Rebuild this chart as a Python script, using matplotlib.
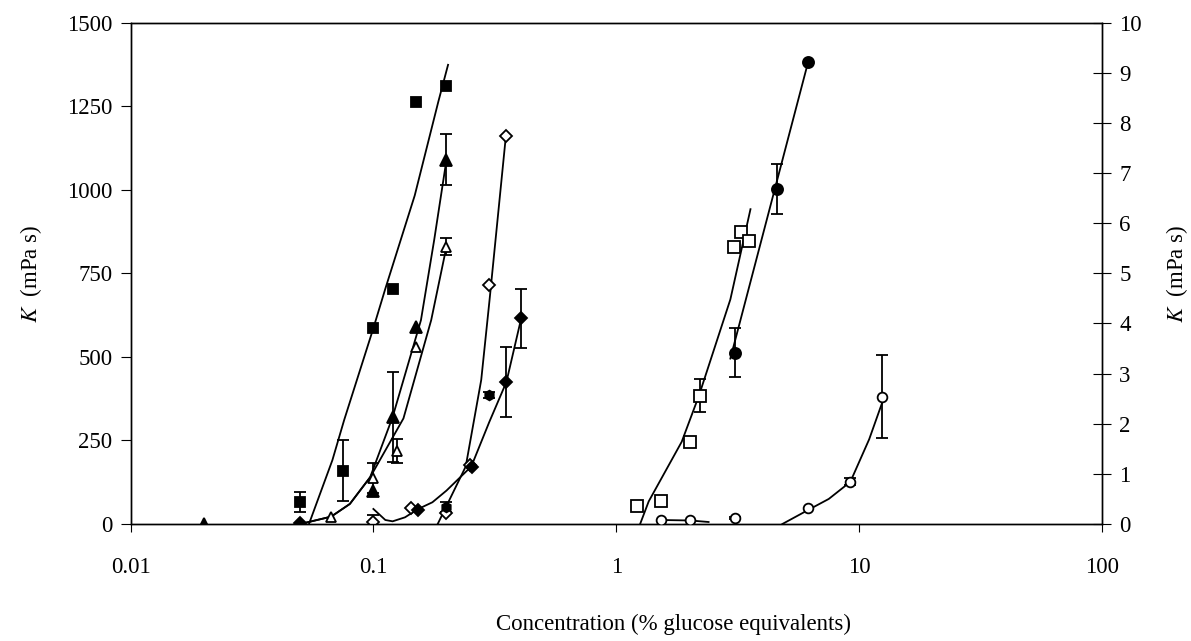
import matplotlib
matplotlib.use("Agg")
import matplotlib.pyplot as plt
from matplotlib.ticker import FixedLocator, NullLocator

plt.rcParams['font.family'] = ['Liberation Serif', 'DejaVu Serif']
plt.rcParams['mathtext.fontset'] = 'stix'

# ---- left axis series, K in mPa s ----
sqf_x = [0.05, 0.075, 0.1, 0.12, 0.15, 0.2]
sqf_y = [65, 160, 586, 704, 1263, 1310]
sqf_e = [30, 90, 0, 0, 0, 0]

trf_x = [0.02, 0.1, 0.12, 0.15, 0.2]
trf_y = [0, 100, 320, 590, 1090]
trf_e = [0, 0, 135, 0, 77]

tro_x = [0.067, 0.1, 0.125, 0.15, 0.2]
tro_y = [20, 137, 218, 530, 830]
tro_e = [0, 45, 35, 0, 25]

dio_x = [0.1, 0.143, 0.2, 0.25, 0.3, 0.35]
dio_y = [7, 48, 32, 178, 715, 1160]
dio_e = [20, 0, 0, 0, 0, 0]

dif_x = [0.05, 0.152, 0.255, 0.353, 0.406]
dif_y = [3, 42, 172, 425, 615]
dif_e = [0, 0, 0, 105, 87]

hex_x = [0.2, 0.3]
hex_y = [50, 386]
hex_e = [15, 10]

# fitted curves (left)
sqf_fit_x = [0.0543, 0.0678, 0.0758, 0.1, 0.112, 0.148, 0.185, 0.203]
sqf_fit_y = [0, 191, 311, 586, 704, 983, 1263, 1374]
trf_fit_x = [0.05, 0.067, 0.08, 0.097, 0.12, 0.157, 0.178, 0.2]
trf_fit_y = [0, 22, 60, 140, 320, 610, 850, 1090]
tro_fit_x = [0.05, 0.067, 0.08, 0.097, 0.133, 0.173, 0.2]
tro_fit_y = [0, 22, 60, 140, 316, 610, 830]
dio_fit_x = [0.184, 0.24, 0.278, 0.301, 0.35]
dio_fit_y = [0, 172, 431, 672, 1150]
dif_fit_x = [0.1, 0.112, 0.12, 0.135, 0.152, 0.175, 0.2, 0.253, 0.3, 0.353, 0.406]
dif_fit_y = [45, 12, 8, 20, 44, 65, 100, 172, 305, 425, 615]

# ---- right axis series, K in mPa s ----
cif_x = [3.07, 4.57, 6.17]
cif_y = [3.42, 6.69, 9.22]
cif_e = [0.48, 0.5, 0]

sqo_x = [1.22, 1.53, 2.02, 2.22, 3.05, 3.27, 3.52]
sqo_y = [0.36, 0.45, 1.64, 2.56, 5.52, 5.82, 5.65]
sqo_e = [0, 0, 0.06, 0.33, 0, 0, 0]

cio_x = [1.53, 2.02, 3.07, 6.17, 9.2, 12.4]
cio_y = [0.08, 0.08, 0.11, 0.31, 0.84, 2.54]
cio_e = [0, 0, 0.02, 0, 0.07, 0.83]

cif_fit_x = [2.95, 6.17]
cif_fit_y = [3.3, 9.22]
sqo_fit_x = [1.254, 1.36, 1.86, 2.19, 2.95, 3.57]
sqo_fit_y = [0, 0.45, 1.64, 2.56, 4.48, 6.28]
cio_fit1_x = [1.53, 2.02, 2.4]
cio_fit1_y = [0.08, 0.07, 0.04]
cio_fit2_x = [4.83, 6.17, 7.5, 9.2, 11.0, 12.4]
cio_fit2_y = [0, 0.28, 0.5, 0.84, 1.69, 2.4]

xticks = [0.01, 0.1, 1, 10, 100]
xtick_labels = ['0.01', '0.1', '1', '10', '100']
yticks_left = [0, 250, 500, 750, 1000, 1250, 1500]
yticks_right = list(range(0, 11))

FS = 16.5
LW = 1.3

fig = plt.figure(figsize=(11.91, 6.41), dpi=100)
ax = fig.add_axes([130.5 / 1191, 1 - 524 / 641, (1102 - 130.5) / 1191, (524 - 22.7) / 641])
ax2 = ax.twinx()


def series(a, x, y, e, marker, filled, ms):
    ex = [xi for xi, ei in zip(x, e) if ei > 0]
    ey = [yi for yi, ei in zip(y, e) if ei > 0]
    ee = [ei for ei in e if ei > 0]
    if ee:
        a.errorbar(ex, ey, yerr=ee, fmt='none', ecolor='k', elinewidth=LW,
                   capsize=4.5, capthick=LW, zorder=4)
    a.plot(x, y, linestyle='none', marker=marker, ms=ms, mec='k', mew=1.3,
           mfc='k' if filled else 'white', zorder=5)


for fx, fy in [(sqf_fit_x, sqf_fit_y), (trf_fit_x, trf_fit_y), (tro_fit_x, tro_fit_y),
               (dio_fit_x, dio_fit_y), (dif_fit_x, dif_fit_y)]:
    ax.plot(fx, fy, color='k', lw=LW, zorder=3)

series(ax, sqf_x, sqf_y, sqf_e, 's', True, 7.5)
series(ax, trf_x, trf_y, trf_e, '^', True, 8)
series(ax, tro_x, tro_y, tro_e, '^', False, 7.5)
series(ax, dio_x, dio_y, dio_e, 'D', False, 6)
series(ax, dif_x, dif_y, dif_e, 'D', True, 6)
series(ax, hex_x, hex_y, hex_e, 'h', True, 7)

for fx, fy in [(cif_fit_x, cif_fit_y), (sqo_fit_x, sqo_fit_y),
               (cio_fit1_x, cio_fit1_y), (cio_fit2_x, cio_fit2_y)]:
    ax2.plot(fx, fy, color='k', lw=LW, zorder=3)

series(ax2, cif_x, cif_y, cif_e, 'o', True, 8)
series(ax2, sqo_x, sqo_y, sqo_e, 's', False, 8)
series(ax2, cio_x, cio_y, cio_e, 'o', False, 7)

ax.set_xscale('log')
ax.set_xlim(0.01, 100)
ax.set_ylim(0, 1500)
ax2.set_ylim(0, 10)
ax.xaxis.set_major_locator(FixedLocator(xticks))
ax.xaxis.set_minor_locator(NullLocator())
ax.set_xticklabels(xtick_labels)
ax.set_yticks(yticks_left)
ax2.set_yticks(yticks_right)

ax.tick_params(axis='x', direction='out', length=6, width=0.8, pad=18, labelsize=FS)
ax.tick_params(axis='y', direction='out', length=7, width=0.8, pad=6, labelsize=FS)
ax2.tick_params(axis='y', direction='inout', length=13, width=0.8, pad=6, labelsize=FS)

for a in (ax, ax2):
    for s in a.spines.values():
        s.set_linewidth(1.0)
        s.set_color('k')

fig.text(31 / 1191, 1 - 273.4 / 641, '$K$  (mPa s)', rotation=90, ha='center', va='center', fontsize=FS)
fig.text(1177 / 1191, 1 - 273.4 / 641, '$K$  (mPa s)', rotation=90, ha='center', va='center', fontsize=FS)
fig.text(674 / 1191, 1 - 624 / 641, 'Concentration (% glucose equivalents)', ha='center', va='center', fontsize=FS)

fig.savefig('out.png', dpi=100)
